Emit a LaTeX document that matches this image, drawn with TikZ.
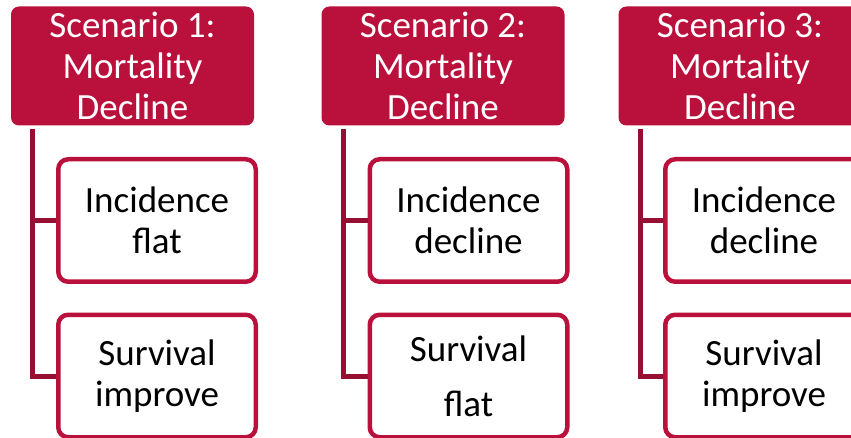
\documentclass[tikz,border=0pt]{standalone}
\usepackage{fontspec}
\setmainfont{Carlito}
\definecolor{crim}{RGB}{186,16,60}
\definecolor{maroon}{RGB}{150,14,50}
\begin{document}
\begin{tikzpicture}[x=1pt,y=-1pt,
  head/.style={fill=crim, draw=none, rounded corners=8pt, text=white,
    minimum width=243pt, minimum height=119pt, inner sep=0pt, align=center,
    font=\fontsize{37}{41}\selectfont},
  child/.style={fill=white, draw=crim, line width=4.5pt, rounded corners=10pt, text=black,
    minimum width=197.5pt, minimum height=122.5pt, inner sep=0pt, align=center,
    font=\fontsize{37}{41}\selectfont},
  conn/.style={draw=maroon, line width=5pt}]
\useasboundingbox (0,0) rectangle (851,438);
% column 1
\node[head] (h1) at (132.5,66) {Scenario 1:\\Mortality\\Decline};
\node[child] (c1a) at (157,220.5) {Incidence\\flat};
\node[child] (c1b) at (157,376) {Survival\\improve};
% column 2
\node[head] (h2) at (443,66) {Scenario 2:\\Mortality\\Decline};
\node[child] (c2a) at (468.5,220.5) {Incidence\\decline};
\node[child] (c2b) at (468.5,376) {Survival\\[14pt]flat};
% column 3
\node[head] (h3) at (740,66) {Scenario 3:\\Mortality\\Decline};
\node[child] (c3a) at (764,220.5) {Incidence\\decline};
\node[child] (c3b) at (764,376) {Survival\\improve};
% connectors
\foreach \h/\a/\b in {h1/c1a/c1b, h2/c2a/c2b, h3/c3a/c3b}{
  \coordinate (\h top) at ([xshift=22pt,yshift=-3pt]\h.south west);
  \draw[conn] (\h top) |- (\a.west);
  \draw[conn] (\h top) |- (\b.west);
}
\end{tikzpicture}
\end{document}
